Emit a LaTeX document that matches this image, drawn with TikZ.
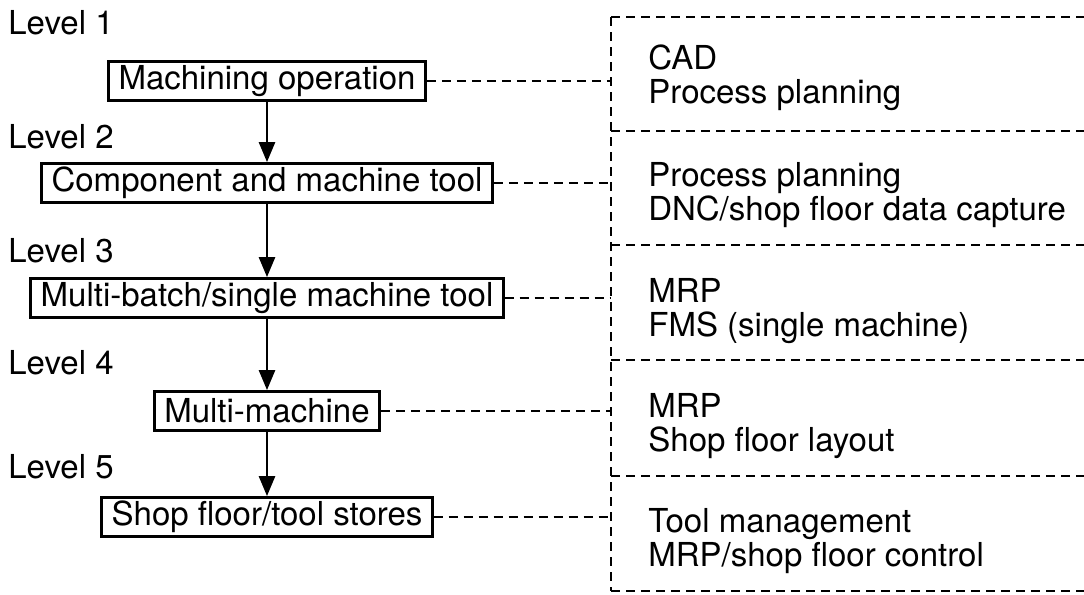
\documentclass[tikz,border=0pt]{standalone}
\usepackage{fontspec}
\setmainfont{TeX Gyre Heros}
\usepackage{tikz}
\usetikzlibrary{arrows.meta,positioning}

\begin{document}
\begin{tikzpicture}[x=0.5pt,y=-0.5pt,
    font=\fontsize{16.5}{17}\selectfont,
    level/.style={anchor=west, inner sep=0pt},
    stage/.style={draw, line width=1.4pt, rectangle, minimum height=19.5pt, inner xsep=5pt, inner ysep=0pt, text centered, text=black},
    task/.style={anchor=west, align=left, inner sep=0pt},
    link/.style={line width=1.3pt, dash pattern=on 4.5pt off 3pt},
    flow/.style={line width=1.3pt, -{Triangle[length=10pt,width=8pt]}}]
    \useasboundingbox (0,0) rectangle (1084,595);
    % levels on the left
    \node[level] (l1) at (8, 23) {Level 1};
    \node[level] (l2) at (8, 137) {Level 2};
    \node[level] (l3) at (8, 251) {Level 3};
    \node[level] (l4) at (8, 363) {Level 4};
    \node[level] (l5) at (8, 467) {Level 5};
    % boxes
    \node[stage] (b1) at (267, 81) {Machining operation};
    \node[stage] (b2) at (267, 183) {Component and machine tool};
    \node[stage] (b3) at (267, 298) {Multi-batch/single machine tool};
    \node[stage] (b4) at (267, 411) {Multi-machine};
    \node[stage] (b5) at (267, 517) {Shop floor/tool stores};
    \draw [flow] (b1) -- (b2);
    \draw [flow] (b2) -- (b3);
    \draw [flow] (b3) -- (b4);
    \draw [flow] (b4) -- (b5);
    % dashed panel on the right
    \coordinate (top) at (611, 17);
    \coordinate (bot) at (611, 591);
    \draw [link] (top) -- (bot);
    \foreach \y in {17, 131, 245, 360, 476, 591}
        \draw [link] (611, \y) -- (1084, \y);
    \node[task] (t1) at (648, 78) {CAD\\Process planning};
    \node[task] (t2) at (648, 195) {Process planning\\DNC/shop floor data capture};
    \node[task] (t3) at (648, 311) {MRP\\FMS (single machine)};
    \node[task] (t4) at (648, 426) {MRP\\Shop floor layout};
    \node[task] (t5) at (648, 541) {Tool management\\MRP/shop floor control};
    \foreach \b in {b1, b2, b3, b4, b5}
        \draw [link] (\b.east) -- (\b.east -| top);
\end{tikzpicture}
\end{document}
